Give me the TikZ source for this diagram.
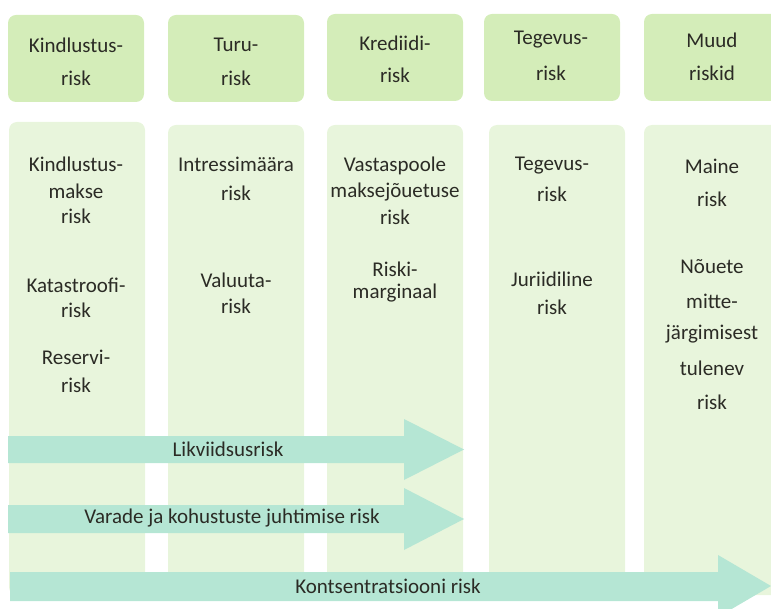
\documentclass[tikz,border=0pt]{standalone}
\usepackage{fontspec}
\setmainfont{Carlito}
\definecolor{hdrgreen}{HTML}{D4EDB9}
\definecolor{colgreen}{HTML}{E8F5DC}
\definecolor{arrgreen}{HTML}{B5E6D4}
\definecolor{txt}{HTML}{2B2B25}
\tikzset{
  hdrbox/.style={fill=hdrgreen, draw=none, rounded corners=8pt},
  colbox/.style={fill=colgreen, draw=none, rounded corners=8pt},
  bigarrow/.style={fill=arrgreen, draw=none},
  lbl/.style={text=txt, font=\fontsize{21}{24}\selectfont, inner sep=0pt, anchor=center},
}
\begin{document}
\begin{tikzpicture}[x=1pt,y=-1pt]
\useasboundingbox (0,0) rectangle (771,609);
% columns
\fill[colbox] (9,122) rectangle (145,595);
\fill[colbox] (168,125) rectangle (304,595);
\fill[colbox] (327,125) rectangle (463,595);
\fill[colbox] (489,125) rectangle (625,595);
\fill[colbox] (644,125) rectangle (790,595);
% headers
\node[hdrbox, minimum width=136pt, minimum height=87pt] (h1) at (76,58.5) {};
\node[hdrbox, minimum width=136pt, minimum height=87pt] (h2) at (236,58.5) {};
\node[hdrbox, minimum width=136pt, minimum height=87pt] (h3) at (395,57.5) {};
\node[hdrbox, minimum width=136pt, minimum height=87pt] (h4) at (552,57.5) {};
\node[hdrbox, minimum width=136pt, minimum height=87pt] (h5) at (712,57.5) {};
\node[lbl] (h1a) at (76,45) {Kindlustus-};
\node[lbl] (h1b) at (76,78) {risk};
\node[lbl] (h2a) at (236,45) {Turu-};
\node[lbl] (h2b) at (236,78) {risk};
\node[lbl] (h3a) at (395,43) {Krediidi-};
\node[lbl] (h3b) at (395,75) {risk};
\node[lbl] (h4a) at (551,40) {Tegevus-};
\node[lbl] (h4b) at (551,73) {risk};
\node[lbl] (h5a) at (712,40) {Muud};
\node[lbl] (h5b) at (712,73) {riskid};
% column 1
\node[lbl] (c1a) at (76,164) {Kindlustus-};
\node[lbl] (c1b) at (76,191) {makse};
\node[lbl] (c1c) at (76,216) {risk};
\node[lbl] (c1d) at (76,285) {Katastroofi-};
\node[lbl] (c1e) at (76,310) {risk};
\node[lbl] (c1f) at (76,357) {Reservi-};
\node[lbl] (c1g) at (76,385) {risk};
% column 2
\node[lbl] (c2a) at (236,164) {Intressimäära};
\node[lbl] (c2b) at (236,193) {risk};
\node[lbl] (c2c) at (236,280) {Valuuta-};
\node[lbl] (c2d) at (236,306) {risk};
% column 3
\node[lbl] (c3a) at (395,166) {Vastaspoole};
\node[lbl] (c3b) at (395,192) {maksejõuetuse};
\node[lbl] (c3c) at (395,217) {risk};
\node[lbl] (c3d) at (395,269) {Riski-};
\node[lbl] (c3e) at (395,293) {marginaal};
% column 4
\node[lbl] (c4a) at (552,166) {Tegevus-};
\node[lbl] (c4b) at (552,194) {risk};
\node[lbl] (c4c) at (552,279) {Juriidiline};
\node[lbl] (c4d) at (552,307) {risk};
% column 5
\node[lbl] (c5a) at (712,166) {Maine};
\node[lbl] (c5b) at (712,199) {risk};
\node[lbl] (c5c) at (712,267) {Nõuete};
\node[lbl] (c5d) at (712,301) {mitte-};
\node[lbl] (c5e) at (712,334) {järgimisest};
\node[lbl] (c5f) at (712,368) {tulenev};
\node[lbl] (c5g) at (712,402) {risk};
% arrows
\fill[bigarrow] (8,436) -- (404,436) -- (404,419) -- (464,449.5) -- (404,480) -- (404,463) -- (8,463) -- cycle;
\fill[bigarrow] (8,505) -- (404,505) -- (404,488) -- (464,519) -- (404,550) -- (404,533) -- (8,533) -- cycle;
\fill[bigarrow] (10,572) -- (718,572) -- (718,555) -- (771,586) -- (718,617) -- (718,601) -- (10,601) -- cycle;
\node[lbl] (a1) at (228,449) {Likviidsusrisk};
\node[lbl] (a2) at (232,518) {Varade ja kohustuste juhtimise risk};
\node[lbl] (a3) at (388,586) {Kontsentratsiooni risk};
\end{tikzpicture}
\end{document}
